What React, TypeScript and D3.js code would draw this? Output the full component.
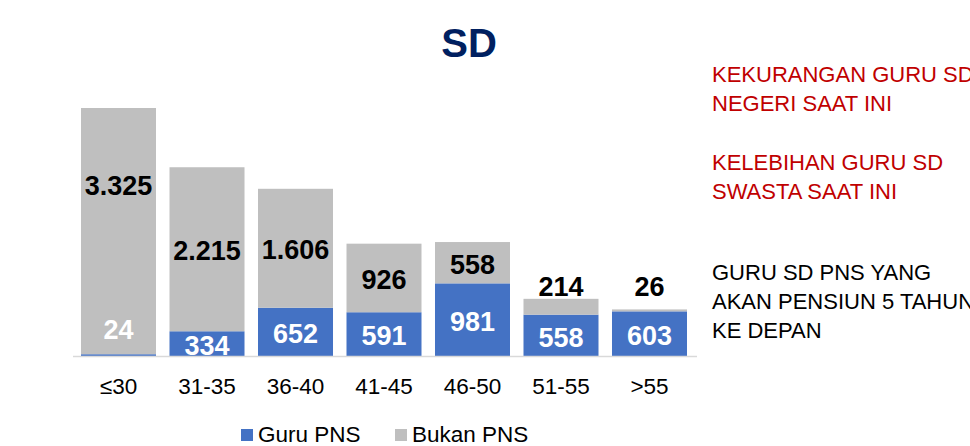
import React from "react";
import * as d3 from "d3";

const categories = ["≤30", "31-35", "36-40", "41-45", "46-50", "51-55", ">55"];
const guruPNS = [24, 334, 652, 591, 981, 558, 603];
const bukanPNS = [3325, 2215, 1606, 926, 558, 214, 26];
const seriesNames = ["Guru PNS", "Bukan PNS"];
const seriesColors = ["#4472C4", "#BFBFBF"];
const redNotes = [["KEKURANGAN GURU SD", "NEGERI SAAT INI"], ["KELEBIHAN GURU SD", "SWASTA SAAT INI"]];
const blackNote = ["GURU SD PNS YANG", "AKAN PENSIUN 5 TAHUN", "KE DEPAN"];
const title = "SD";

const W = 970;
const H = 446;
const FONT = "Arial, 'Liberation Sans', Helvetica, sans-serif";
const fmt = (v: number) => d3.format(",")(v).replace(/,/g, ".");

export default function App() {
  const x = d3.scaleBand<string>().domain(categories).range([71, 697]).paddingInner(0.1525).paddingOuter(0.113);
  const y = d3.scaleLinear().domain([0, 3500]).range([356, 356 - 3500 * 0.07405]);
  const rows = categories.map((c, i) => ({ cat: c, g: guruPNS[i], b: bukanPNS[i] }));
  const stack = d3.stack<any>().keys(["g", "b"])(rows);
  const bw = x.bandwidth();
  const capOff = 0.716 * 27 / 2;

  // top of bars whose gray segment is too small to hold a label
  const smallTops = rows
    .filter((r) => y(r.g) - y(r.g + r.b) < 30)
    .map((r) => y(r.g + r.b));
  const outsideCenter = (smallTops.length ? Math.min(...smallTops) : 0) - 12;

  return (
    <svg width={W} height={H} style={{ position: "absolute", left: 0, top: 0, background: "#fff" }}>
      <text x={469} y={57} textAnchor="middle" fontFamily={FONT} fontWeight="bold" fontSize={40} fill="#002060">
        {title}
      </text>
      {stack.map((layer, li) => (
        <g key={li}>
          {layer.map((d, i) => (
            <rect
              key={i}
              x={x(categories[i])}
              y={y(d[1])}
              width={bw}
              height={y(d[0]) - y(d[1])}
              fill={seriesColors[li]}
            />
          ))}
        </g>
      ))}
      <line x1={73} x2={697} y1={356.5} y2={356.5} stroke="#D9D9D9" strokeWidth={1.5} />
      {stack.map((layer, li) =>
        layer.map((d, i) => {
          const top = y(d[1]);
          const bot = y(d[0]);
          const h = bot - top;
          const val = li === 0 ? guruPNS[i] : bukanPNS[i];
          let center: number;
          if (li === 0) {
            center = h < 10 ? y(0) - 27 : (top + bot) / 2 + 1.5;
          } else {
            if (h > 200) center = top + 77;
            else if (h >= 30) center = (top + bot) / 2 + 1.5;
            else center = outsideCenter;
          }
          const fill = li === 0 ? "#FFFFFF" : "#000000";
          return (
            <text
              key={`${li}-${i}`}
              x={(x(categories[i]) as number) + bw / 2}
              y={center + capOff}
              textAnchor="middle"
              fontFamily={FONT}
              fontWeight="bold"
              fontSize={27}
              fill={fill}
            >
              {fmt(val)}
            </text>
          );
        })
      )}
      {categories.map((c) => (
        <text
          key={c}
          x={(x(c) as number) + bw / 2}
          y={394}
          textAnchor="middle"
          fontFamily={FONT}
          fontSize={22.5}
          fill="#000"
        >
          {c}
        </text>
      ))}
      {/* legend */}
      <g>
        <rect x={241} y={429} width={12} height={12} fill={seriesColors[0]} />
        <text x={258} y={441.5} fontFamily={FONT} fontSize={22.5} fill="#000">
          {seriesNames[0]}
        </text>
        <rect x={395} y={429} width={12} height={12} fill={seriesColors[1]} />
        <text x={412} y={441.5} fontFamily={FONT} fontSize={22.5} fill="#000">
          {seriesNames[1]}
        </text>
      </g>
      {/* notes */}
      {redNotes.map((block, bi) =>
        block.map((line, li) => (
          <text
            key={`r${bi}-${li}`}
            x={712}
            y={82 + bi * 88 + li * 28.5}
            fontFamily={FONT}
            fontSize={22}
            fill="#C00000"
          >
            {line}
          </text>
        ))
      )}
      {blackNote.map((line, li) => (
        <text key={`b${li}`} x={712} y={280 + li * 29} fontFamily={FONT} fontSize={22} fill="#000">
          {line}
        </text>
      ))}
    </svg>
  );
}
